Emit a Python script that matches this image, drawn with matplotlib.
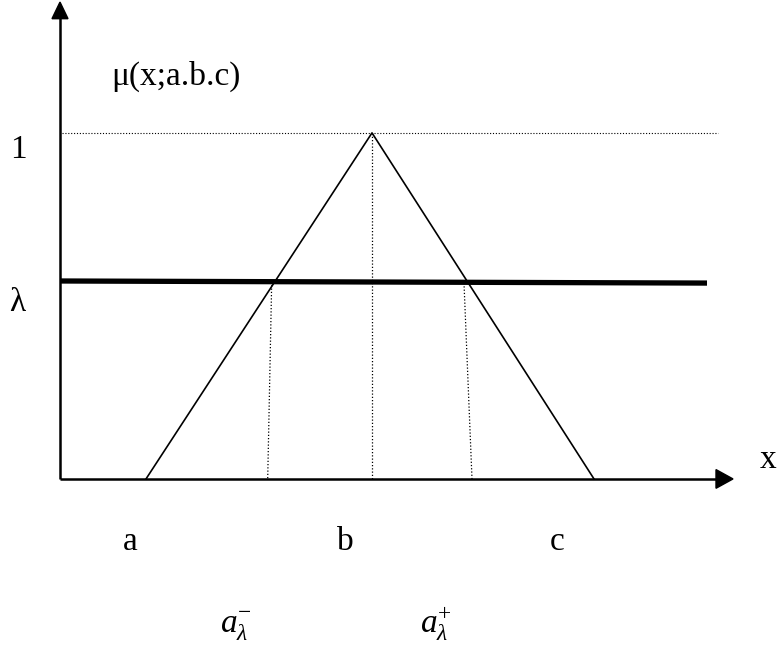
import matplotlib
matplotlib.use("Agg")
import matplotlib.pyplot as plt
from matplotlib.patches import Polygon

plt.rcParams['font.family'] = ['Liberation Serif', 'DejaVu Serif']
plt.rcParams['mathtext.fontset'] = 'custom'
plt.rcParams['mathtext.rm'] = 'Liberation Serif'
plt.rcParams['mathtext.it'] = 'Liberation Serif:italic'

# ---- data (x in 100-pixel units from the origin, mu membership) ----
tri_x = [0.86, 3.12, 5.34]          # a, b, c
tri_mu = [0.0, 1.0, 0.0]
lam_x = [0.01, 6.47]                # thick lambda-cut line
lam_mu = [0.572, 0.566]
one_x = [0.02, 6.58]                # dotted line at mu = 1
one_mu = [1.0, 1.0]
peak_x = [3.12, 3.12]               # dotted vertical at b
peak_mu = [1.0, 0.0]
cutL_x = [2.117, 2.077]             # dotted vertical at a_lambda^-
cutL_mu = [0.569, 0.0]
cutR_x = [4.04, 4.12]               # dotted vertical at a_lambda^+
cutR_mu = [0.566, 0.0]
x_axis_end = 6.73
y_axis_end = 1.378
point_labels = ['a', 'b', 'c']
point_label_x = [0.70, 2.85, 4.97]

fig = plt.figure(figsize=(7.78, 6.53), dpi=100)
ax = fig.add_axes([0, 0, 1, 1])
ax.set_xlim(-0.60, 7.18)
ax.set_ylim(-0.503, 1.384)
ax.axis('off')

dot = (0, (1, 1.6))
ax.plot(one_x, one_mu, color='black', lw=0.8, ls=dot)
ax.plot(peak_x, peak_mu, color='black', lw=0.9, ls=dot)
ax.plot(cutL_x, cutL_mu, color='black', lw=0.9, ls=dot)
ax.plot(cutR_x, cutR_mu, color='black', lw=0.9, ls=dot)
ax.plot(tri_x, tri_mu, color='black', lw=1.2)
ax.plot(lam_x, lam_mu, color='black', lw=3.8, solid_capstyle='butt')

# axes with arrows
ax.plot([0, x_axis_end - 0.12], [0, 0], color='black', lw=1.8, solid_capstyle='butt')
ax.plot([0, 0], [0, y_axis_end - 0.04], color='black', lw=1.8, solid_capstyle='butt')
ax.add_patch(Polygon([[x_axis_end, 0], [x_axis_end - 0.17, 0.027], [x_axis_end - 0.17, -0.027]],
                     closed=True, color='black'))
ax.add_patch(Polygon([[0, y_axis_end], [-0.08, y_axis_end - 0.048], [0.08, y_axis_end - 0.048]],
                     closed=True, color='black'))

fs = 24
ax.text(0.51, 1.162, r'μ(x;a.b.c)', fontsize=fs, ha='left', va='center')
ax.text(-0.42, 0.951, '1', fontsize=fs, ha='center', va='center')
ax.text(-0.43, 0.509, 'λ', fontsize=fs, ha='center', va='center')
ax.text(7.08, 0.055, 'x', fontsize=fs, ha='center', va='center')
for lbl, lx in zip(point_labels, point_label_x):
    ax.text(lx, -0.205, lbl, fontsize=fs, ha='center', va='baseline')
ax.text(1.60, -0.445, r'$a_{\lambda}^{-}$', fontsize=fs, ha='left', va='baseline')
ax.text(3.60, -0.445, r'$a_{\lambda}^{+}$', fontsize=fs, ha='left', va='baseline')

fig.savefig('out.png', dpi=100)
